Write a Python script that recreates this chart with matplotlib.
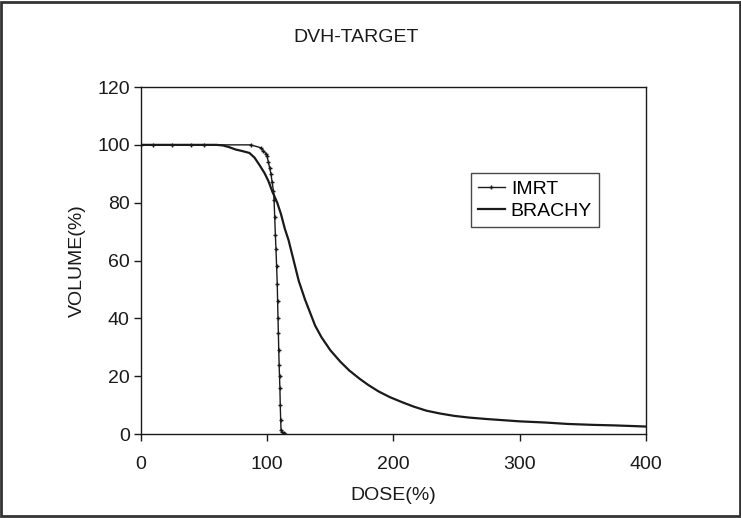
import matplotlib
matplotlib.use("Agg")
import matplotlib.pyplot as plt
from matplotlib.patches import Rectangle

plt.rcParams['font.family'] = ['Liberation Sans', 'DejaVu Sans']

# IMRT curve (dose %, volume %)
imrt_dose = [0, 10, 25, 40, 50, 87, 95, 97, 99, 100, 101, 102, 103, 104, 105,
             105.5, 106, 106.5, 107, 107.5, 108, 108.3, 108.6, 108.9, 109.2,
             109.5, 109.8, 110.1, 110.4, 110.7, 111, 111.5, 113, 114]
imrt_vol = [100, 100, 100, 100, 100, 100, 99, 98, 97, 96, 94, 92, 90, 87, 84,
            81, 75, 69, 64, 58, 52, 46, 40, 35, 29, 24, 20, 16, 10, 5, 1.5, 0.8, 0.3, 0]

# BRACHY curve
brachy_dose = [0, 60, 65, 70, 75, 80, 86, 90, 94, 98, 101, 104, 108, 111, 114,
               117, 121, 125, 130, 134, 138, 143, 150, 158, 165, 173, 180, 188,
               197, 207, 216, 226, 237, 248, 260, 274, 287, 300, 320, 338, 357,
               375, 388, 400]
brachy_vol = [100, 100, 99.8, 99.2, 98.4, 97.9, 97.2, 95.6, 93, 90.2, 87.5, 84,
              80, 76, 71, 67, 60, 53, 46.5, 42, 37.5, 33.5, 29, 25, 22, 19.2,
              17, 14.8, 12.8, 11, 9.5, 8.1, 7.1, 6.3, 5.7, 5.2, 4.8, 4.4, 4,
              3.5, 3.2, 3, 2.8, 2.6]

fig = plt.figure(figsize=(7.41, 5.18), dpi=100)
ax = fig.add_axes([0.190, 0.162, 0.682, 0.670])

ax.plot(imrt_dose, imrt_vol, color='#1a1a1a', lw=1.0, marker='+', ms=3.5,
        mew=1.0, label='IMRT')
ax.plot(brachy_dose, brachy_vol, color='#1a1a1a', lw=1.6, label='BRACHY')

ax.set_xlim(0, 400)
ax.set_ylim(0, 120)
ax.set_xticks([0, 100, 200, 300, 400])
ax.set_yticks([0, 20, 40, 60, 80, 100, 120])
ax.tick_params(direction='out', length=5, width=1, labelsize=14,
               colors='#1a1a1a')
ax.tick_params(axis='x', pad=11)
ax.tick_params(axis='y', pad=3)
for s in ax.spines.values():
    s.set_color('#1a1a1a')
    s.set_linewidth(1.0)

ax.set_xlabel('DOSE(%)', fontsize=14, labelpad=10, color='#1a1a1a')
ax.set_ylabel('VOLUME(%)', fontsize=14, labelpad=8, color='#1a1a1a')
fig.text(0.481, 0.927, 'DVH-TARGET', fontsize=14, ha='center', va='center',
         color='#1a1a1a')

leg = ax.legend(loc='upper left', bbox_to_anchor=(0.634, 0.78), fontsize=14,
                frameon=True, fancybox=False, handlelength=1.4,
                handletextpad=0.3, borderpad=0.35, labelspacing=0.25)
leg.get_frame().set_edgecolor('#1a1a1a')
leg.get_frame().set_linewidth(1.0)

# outer frame of the image
fig.patches.append(Rectangle((0.002, 0.003), 0.996, 0.994, transform=fig.transFigure,
                             fill=False, edgecolor='#333333', lw=2))

fig.savefig('out.png', dpi=100)
